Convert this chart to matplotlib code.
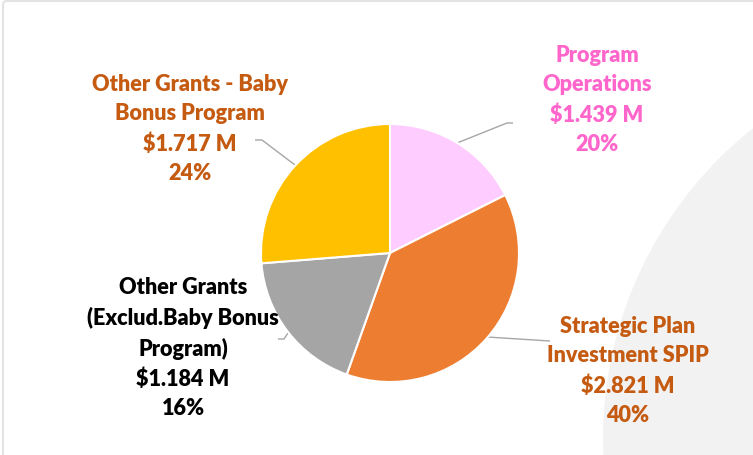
import matplotlib
matplotlib.use("Agg")
import matplotlib.pyplot as plt
from matplotlib.patches import Circle, FancyBboxPatch

# ---- data ----
categories = ["Program\nOperations",
              "Strategic Plan\nInvestment SPIP",
              "Other Grants\n(Exclud.Baby Bonus\nProgram)",
              "Other Grants - Baby\nBonus Program"]
amounts_m = [1.439, 2.821, 1.184, 1.717]
label_pct = [20, 40, 16, 24]
# slice sizes as drawn in the picture (percent of circle)
slice_share = [17.6, 37.9, 18.3, 26.3]

slice_colors = ["#FFCCFF", "#ED7D31", "#A5A5A5", "#FFC000"]
label_colors = ["#FF66CC", "#C55A11", "#000000", "#C55A11"]

W, H = 753, 456
fig = plt.figure(figsize=(W / 100, H / 100), dpi=100)
ax = fig.add_axes([0, 0, 1, 1])

def Y(y):
    return H - y

# background decorations
ax.add_patch(FancyBboxPatch((3, Y(600)), 900, 598,
                            boxstyle="round,pad=0,rounding_size=4",
                            fc="white", ec="#E3E3E3", lw=1.5, zorder=0))
ax.add_patch(Circle((1000, Y(440)), 397, fc="#F2F2F2", ec="none", zorder=0.5))

# pie
cx, cy, r = 390, Y(254), 129
wedges, _ = ax.pie(slice_share, colors=slice_colors, startangle=90,
                   counterclock=False, center=(cx, cy), radius=r,
                   wedgeprops=dict(edgecolor="white", linewidth=1.5))
for w in wedges:
    w.set_zorder(2)

# leader lines
leaders = [
    [(457, 144), (507, 124), (513, 124)],
    [(487, 338), (550, 342)],
    [(290, 331), (284, 340), (278, 340)],
    [(295, 166), (262, 141), (255, 141)],
]
for pts in leaders:
    ax.plot([p[0] for p in pts], [Y(p[1]) for p in pts],
            color="#A6A6A6", lw=1, zorder=1.5, solid_capstyle="butt")

# labels
label_pos = [(597, 100), (628, 371), (183, 348), (190, 129)]
for cat, amt, pct, col, (lx, ly) in zip(categories, amounts_m, label_pct,
                                        label_colors, label_pos):
    txt = f"{cat}\n${amt:.3f} M\n{pct}%"
    ax.text(lx, Y(ly), txt, ha="center", va="center", ma="center",
            color=col, fontsize=15.6, fontweight="heavy", family="Lato",
            linespacing=1.5, zorder=3)

ax.set_xlim(0, W)
ax.set_ylim(0, H)
ax.set_aspect("auto")
ax.axis("off")
fig.savefig("out.png", dpi=100, facecolor="white")
